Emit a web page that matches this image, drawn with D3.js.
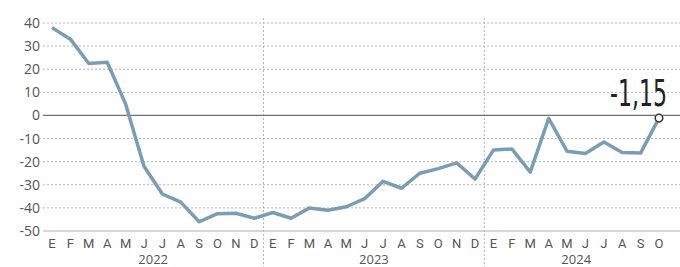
<!DOCTYPE html>
<html>
<head>
<meta charset="utf-8">
<script src="https://cdn.jsdelivr.net/npm/d3@7"></script>
<style>
  body { margin: 0; background: #fff; }
  svg { display: block; font-family: "Open Sans", "DejaVu Sans", sans-serif; }
</style>
</head>
<body>
<div id="chart"></div>
<script>
var years = ["2022", "2023", "2024"];
var monthLetters = ["E","F","M","A","M","J","J","A","S","O","N","D"];
var yTicks = [40, 30, 20, 10, 0, -10, -20, -30, -40, -50];
var values = [
  38, 33, 22.5, 23, 5, -22, -34, -37.5, -46, -42.5, -42.3, -44.5,
  -42, -44.5, -40, -41, -39.5, -36, -28.5, -31.5, -25, -23, -20.5, -27.5,
  -15, -14.5, -24.5, -1.3, -15.5, -16.5, -11.5, -16, -16.3, -1.15
];
var lastLabel = "-1,15";

var width = 680, height = 267;
var margin = {top: 23, right: 21, bottom: 36, left: 52};

var x = d3.scaleLinear()
    .domain([0, values.length - 1])
    .range([margin.left, width - margin.right]);

var y = d3.scaleLinear()
    .domain([-50, 40])
    .range([231, 23]);

var svg = d3.select("#chart").append("svg")
    .attr("width", width)
    .attr("height", height);

// horizontal gridlines
svg.append("g").selectAll("line")
    .data(yTicks.filter(function(d) { return d !== 0 && d !== -50; }))
  .enter().append("line")
    .attr("x1", 43).attr("x2", width)
    .attr("y1", function(d) { return y(d); })
    .attr("y2", function(d) { return y(d); })
    .attr("stroke", "#b5b5b5")
    .attr("stroke-width", 1)
    .attr("stroke-dasharray", "2,2");

// bottom axis line
svg.append("line")
    .attr("x1", 43).attr("x2", width)
    .attr("y1", y(-50)).attr("y2", y(-50))
    .attr("stroke", "#c8c8c8").attr("stroke-width", 1.5);

// year separators
svg.append("g").selectAll("line")
    .data([1, 2])
  .enter().append("line")
    .attr("x1", function(d) { return x(d * 12 - 0.5); })
    .attr("x2", function(d) { return x(d * 12 - 0.5); })
    .attr("y1", 18).attr("y2", height)
    .attr("stroke", "#b5b5b5")
    .attr("stroke-width", 1)
    .attr("stroke-dasharray", "2,2");

// y labels
svg.append("g").selectAll("text")
    .data(yTicks)
  .enter().append("text")
    .attr("x", 40)
    .attr("y", function(d) { return y(d) + 5; })
    .attr("text-anchor", "end")
    .attr("font-size", 14)
    .attr("fill", "#555")
    .text(function(d) { return d; });

// zero line
svg.append("line")
    .attr("x1", 43).attr("x2", width)
    .attr("y1", y(0)).attr("y2", y(0))
    .attr("stroke", "#707070").attr("stroke-width", 1.3);

// month labels
svg.append("g").selectAll("text")
    .data(values)
  .enter().append("text")
    .attr("x", function(d, i) { return x(i); })
    .attr("y", 248)
    .attr("text-anchor", "middle")
    .attr("font-family", "Roboto, sans-serif")
    .attr("font-size", 13)
    .attr("fill", "#555")
    .text(function(d, i) { return monthLetters[i % 12]; });

// year labels
svg.append("g").selectAll("text")
    .data(years)
  .enter().append("text")
    .attr("x", function(d, i) {
      var last = Math.min(i * 12 + 11, values.length - 1);
      return (x(i * 12) + x(last)) / 2;
    })
    .attr("y", 264)
    .attr("text-anchor", "middle")
    .attr("font-size", 13)
    .attr("fill", "#555")
    .text(function(d) { return d; });

// the line
var line = d3.line()
    .x(function(d, i) { return x(i); })
    .y(function(d) { return y(d); });

svg.append("path")
    .datum(values)
    .attr("d", line)
    .attr("fill", "none")
    .attr("stroke", "#7b9db3")
    .attr("stroke-width", 3.5)
    .attr("stroke-linejoin", "round");

var li = values.length - 1;
svg.append("circle")
    .attr("cx", x(li)).attr("cy", y(values[li]))
    .attr("r", 3.8)
    .attr("fill", "#fff")
    .attr("stroke", "#333")
    .attr("stroke-width", 1.5);

// condensed value label: squeeze horizontally to fit
var lbl = svg.append("text")
    .attr("font-family", "'DejaVu Sans Condensed', 'Liberation Sans Narrow', sans-serif")
    .attr("font-size", 38)
    .attr("fill", "#222")
    .text(lastLabel);
var natural = lbl.node().getComputedTextLength();
lbl.attr("transform", "translate(610,106) scale(" + (57 / natural) + ",1)");
</script>
</body>
</html>
